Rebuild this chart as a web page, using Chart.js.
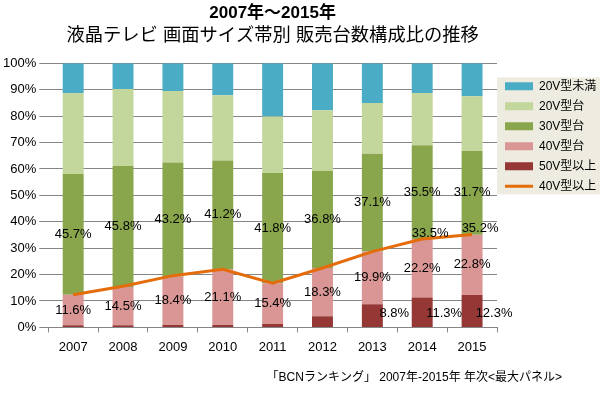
<!DOCTYPE html>
<html>
<head>
<meta charset="utf-8">
<script src="https://cdn.jsdelivr.net/npm/chart.js@4.4.1/dist/chart.umd.min.js"></script>
<style>
  body { margin: 0; background: #fff; }
</style>
</head>
<body>
<canvas id="sizeShareChart" width="600" height="393"></canvas>
<script>
const FONT = '"Liberation Sans", "Noto Sans CJK JP", sans-serif';

const years = ['2007', '2008', '2009', '2010', '2011', '2012', '2013', '2014', '2015'];
const over50 = [0.8, 0.8, 0.9, 0.9, 1.3, 4.2, 8.8, 11.3, 12.3];
const size40 = [11.6, 14.5, 18.4, 21.1, 15.4, 18.3, 19.9, 22.2, 22.8];
const size30 = [45.7, 45.8, 43.2, 41.2, 41.8, 36.8, 37.1, 35.5, 31.7];
const size20 = [30.6, 29.2, 27.0, 24.7, 21.4, 22.9, 19.2, 19.8, 20.7];
const under20 = [11.3, 9.7, 10.5, 12.1, 20.1, 17.8, 15.0, 11.2, 12.5];
const over40 = [12.4, 15.6, 19.6, 22.0, 16.7, 22.5, 28.7, 33.5, 35.2];
const yTicks = [0, 10, 20, 30, 40, 50, 60, 70, 80, 90, 100];

// which points carry a value label
const labels50 = [false, false, false, false, false, false, true, true, true];
const labelsLine = [false, false, false, false, false, false, false, true, true];

// legend order: 20V未満 on top ... line last
const legendRank = [4, 3, 2, 1, 0, 5];

const valueLabels = {
  id: 'valueLabels',
  afterDatasetsDraw(chart) {
    const { ctx } = chart;
    ctx.save();
    ctx.font = '13px ' + FONT;
    ctx.fillStyle = '#000';
    ctx.textAlign = 'center';
    ctx.textBaseline = 'middle';
    chart.data.datasets.forEach((ds, i) => {
      const flags = ds.labelFlags;
      if (!flags) return;
      chart.getDatasetMeta(i).data.forEach((el, j) => {
        if (!flags[j]) return;
        const text = ds.data[j].toFixed(1) + '%';
        if (ds.type === 'line') {
          ctx.fillText(text, el.x + 8, el.y - 6);
        } else if (ds.labelBeside) {
          ctx.fillText(text, el.x + 22, el.base - 13);
        } else {
          ctx.fillText(text, el.x, (el.y + el.base) / 2);
        }
      });
    });
    ctx.restore();
  }
};

const legendPanel = {
  id: 'legendPanel',
  beforeDraw(chart) {
    const lg = chart.legend;
    if (!lg) return;
    const { ctx } = chart;
    const n = lg.legendItems.length;
    const top = lg.top + 9 + 8 - 3;
    const h = n * 20 - 8 + 5;
    ctx.save();
    ctx.fillStyle = '#eeece1';
    ctx.fillRect(lg.left, top, chart.width - lg.left, h);
    ctx.restore();
  }
};

const footerNote = {
  id: 'footerNote',
  afterDraw(chart) {
    const { ctx } = chart;
    ctx.save();
    ctx.font = '12px ' + FONT;
    ctx.fillStyle = '#000';
    ctx.textAlign = 'right';
    ctx.textBaseline = 'middle';
    ctx.fillText('「BCNランキング」 2007年-2015年 年次<最大パネル>', 562, 378);
    ctx.restore();
  }
};

const barSet = (label, data, color, extra) => Object.assign({
  type: 'bar',
  label: label,
  data: data,
  backgroundColor: color,
  borderWidth: 0,
  pointStyle: 'rect',
  categoryPercentage: 1,
  barPercentage: 0.42
}, extra || {});

new Chart(document.getElementById('sizeShareChart'), {
  data: {
    labels: years,
    datasets: [
      barSet('50V型以上', over50, '#953735', { labelFlags: labels50, labelBeside: true }),
      barSet('40V型台', size40, '#d99694', { labelFlags: years.map(() => true) }),
      barSet('30V型台', size30, '#8aa64d', { labelFlags: years.map(() => true) }),
      barSet('20V型台', size20, '#c3d69b'),
      barSet('20V型未満', under20, '#4bacc6'),
      {
        type: 'line',
        label: '40V型以上',
        data: over40,
        stack: 'line',
        order: -1,
        borderColor: '#e46c0a',
        backgroundColor: '#e46c0a',
        borderWidth: 3,
        pointRadius: 0,
        pointStyle: 'line',
        tension: 0,
        labelFlags: labelsLine
      }
    ]
  },
  options: {
    responsive: false,
    animation: false,
    layout: { padding: { left: 0, right: 0, top: 0, bottom: 31 } },
    plugins: {
      title: {
        display: true,
        text: '2007年～2015年',
        fullSize: false,
        color: '#000',
        font: { family: FONT, size: 17, weight: 'bold', lineHeight: 1.2 },
        padding: { top: 3, bottom: 0 }
      },
      subtitle: {
        display: true,
        text: '液晶テレビ 画面サイズ帯別 販売台数構成比の推移',
        fullSize: false,
        color: '#000',
        font: { family: FONT, size: 18.3, weight: 'normal', lineHeight: 1.2 },
        padding: { top: 2, bottom: 16 }
      },
      legend: {
        position: 'right',
        align: 'start',
        fullSize: false,
        maxWidth: 103,
        title: { display: true, text: ' ', font: { size: 7.5, lineHeight: 1.2 }, padding: 0 },
        labels: {
          usePointStyle: true,
          pointStyleWidth: 28,
          boxHeight: 8,
          padding: 8,
          color: '#000',
          font: { family: FONT, size: 12 },
          sort: (a, b) => legendRank[a.datasetIndex] - legendRank[b.datasetIndex]
        }
      },
      tooltip: { enabled: false }
    },
    scales: {
      x: {
        stacked: true,
        grid: { display: true, drawOnChartArea: false, offset: true, tickLength: 5, color: '#868686' },
        border: { display: true, color: '#868686' },
        ticks: { color: '#000', padding: 7, font: { family: FONT, size: 13 } }
      },
      y: {
        stacked: true,
        min: 0,
        max: 100,
        afterBuildTicks: (axis) => { axis.ticks = yTicks.map(v => ({ value: v })); },
        grid: { color: '#868686', tickLength: 9 },
        border: { display: false },
        ticks: {
          color: '#000',
          padding: 3,
          font: { family: FONT, size: 13 },
          callback: (v) => v + '%'
        }
      }
    }
  },
  plugins: [legendPanel, valueLabels, footerNote]
});
</script>
</body>
</html>
